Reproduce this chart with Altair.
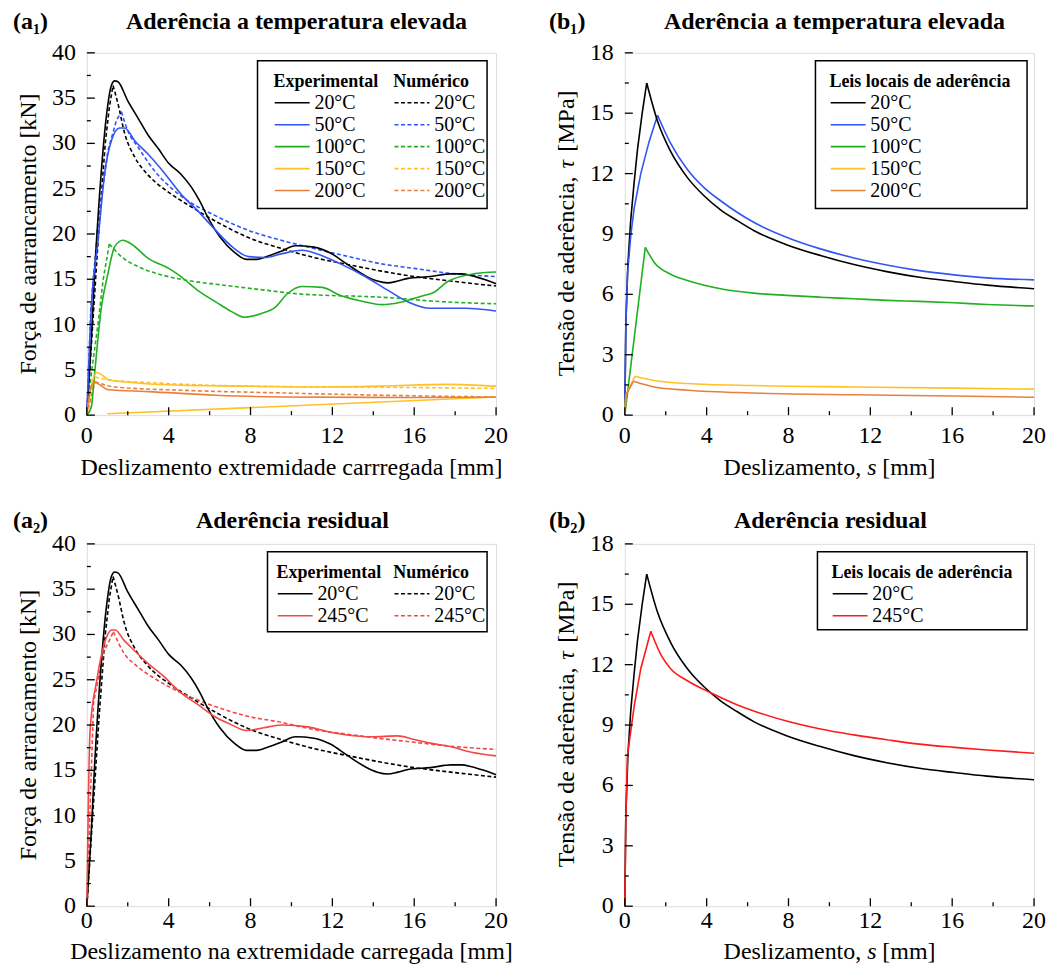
import altair as alt
import pandas as pd

FONT = "Liberation Serif"

# ---------------- data ----------------
# Panel a1 / a2 : pull-out force [kN] vs loaded-end slip [mm]
exp20_s = [0, 0.2, 0.38, 0.7, 0.95, 1.2, 1.36, 1.52, 2.0, 2.5, 3.0, 3.5, 4.0, 4.6, 5.1, 5.5, 5.9, 6.5, 7.2, 7.8,
           8.3, 8.9, 9.5, 10.2, 11.1, 11.9, 12.7, 13.6, 14.2, 14.7, 15.2, 15.7, 16.8, 17.8, 18.3, 18.8, 19.4, 20]
exp20_F = [0, 7.5, 15.6, 26.7, 32.9, 36.4, 36.9, 36.8, 34.7, 32.8, 30.9, 29.4, 27.8, 26.6, 25.2, 23.7, 21.9, 19.7, 18.0, 17.2,
           17.2, 17.6, 18.1, 18.7, 18.55, 17.9, 16.7, 15.4, 14.8, 14.6, 14.8, 15.1, 15.3, 15.6, 15.6, 15.4, 15.0, 14.5]
num20_s = [0, 0.3, 0.6, 0.9, 1.1, 1.28, 1.52, 1.85, 2.34, 3.0, 4.0, 5.1, 6.3, 7.9, 9.5, 11.1, 12.8, 14.4, 16.0, 17.6, 20]
num20_F = [0, 10.5, 21, 30, 34, 36.4, 34.4, 31.1, 28.5, 26.5, 24.6, 23.0, 21.4, 19.6, 18.4, 17.4, 16.6, 15.9, 15.3, 14.85, 14.25]

exp50_s = [0, 0.22, 0.55, 0.87, 1.2, 1.6, 1.85, 2.34, 3.0, 3.8, 4.6, 5.4, 6.3, 7.1, 7.9, 8.7, 9.5, 10.5, 11.5, 12.4,
           13.6, 14.7, 15.7, 16.8, 18.5, 20]
exp50_F = [0, 11.9, 19.3, 26.7, 30.3, 31.7, 31.7, 30.3, 28.8, 26.7, 24.4, 22.6, 20.4, 18.6, 17.5, 17.4, 17.8, 18.2, 17.6, 16.7,
           15.3, 13.8, 12.5, 11.8, 11.8, 11.5]
num50_s = [0, 0.2, 0.55, 1.03, 1.44, 1.69, 2.0, 2.5, 3.3, 4.6, 6.3, 7.9, 9.5, 11.1, 12.8, 14.4, 16.0, 17.6, 20]
num50_F = [0, 12, 21.1, 29.2, 32.5, 33.5, 31.4, 29.6, 27.0, 24.2, 22.0, 20.4, 19.3, 18.4, 17.5, 16.7, 16.2, 15.7, 15.3]

exp100_s = [0, 0.22, 0.38, 0.71, 1.03, 1.36, 1.77, 2.17, 3.0, 4.0, 4.6, 5.4, 6.3, 7.1, 7.7, 8.5, 9.2, 9.8, 10.5, 11.5,
            12.4, 13.6, 14.4, 15.4, 16.3, 17.0, 17.6, 18.9, 20]
exp100_F = [0, 0.9, 4.6, 11.9, 15.6, 18.6, 19.3, 18.9, 17.3, 16.2, 15.3, 13.8, 12.5, 11.4, 10.8, 11.2, 11.9, 13.4, 14.2, 14.1,
            13.2, 12.5, 12.2, 12.5, 13.1, 13.6, 14.7, 15.6, 15.8]
num100_s = [0, 0.22, 0.55, 0.8, 1.1, 1.69, 2.5, 3.8, 5.1, 6.5, 8.7, 10.3, 12.0, 13.6, 15.2, 16.8, 18.5, 20]
num100_F = [0, 4.6, 10.1, 15.0, 18.9, 17.5, 16.4, 15.4, 14.8, 14.4, 13.8, 13.4, 13.2, 13.1, 12.9, 12.6, 12.4, 12.3]

exp150_s = [0, 0.25, 0.49, 0.7, 1.06, 2.2, 4.6, 7.9, 11.1, 14.4, 17.6, 20]
exp150_F = [0, 3.5, 4.7, 4.5, 3.9, 3.6, 3.3, 3.2, 3.1, 3.2, 3.4, 3.2]
exp150b_s = [1.0, 20]
exp150b_F = [0.15, 2.0]
num150_s = [0, 0.4, 1.06, 3.0, 7.9, 16.0, 20]
num150_F = [0, 4.2, 3.9, 3.6, 3.2, 3.05, 2.95]

exp200_s = [0, 0.2, 0.37, 1.06, 3.0, 6.3, 9.5, 16.0, 20]
exp200_F = [0, 3.0, 3.6, 2.8, 2.6, 2.2, 2.0, 1.95, 2.0]
num200_s = [0, 0.4, 1.4, 4.6, 9.5, 14.4, 20]
num200_F = [0, 3.7, 3.1, 2.75, 2.45, 2.2, 2.0]

exp245_s = [0, 0.16, 0.49, 0.82, 1.22, 1.39, 1.8, 2.29, 2.94, 3.75, 4.57, 5.4, 6.2, 7.0, 7.8, 8.65, 9.5, 10.8, 11.9,
            12.7, 13.9, 15.2, 16.0, 16.8, 17.8, 18.8, 20]
exp245_F = [0, 19.5, 25.0, 28.7, 30.5, 30.5, 29.4, 28.3, 26.9, 25.4, 23.6, 22.3, 21.0, 20.1, 19.4, 19.7, 20.0, 19.8, 19.2,
            18.9, 18.7, 18.8, 18.4, 18.0, 17.6, 17.0, 16.6]
num245_s = [0, 0.33, 0.82, 1.3, 1.8, 2.45, 3.27, 4.57, 6.2, 7.8, 9.5, 11.1, 12.7, 14.4, 16.0, 17.6, 20]
num245_F = [0, 22.5, 28.0, 30.3, 28.0, 26.5, 25.2, 23.6, 22.1, 21.0, 20.3, 19.5, 19.0, 18.5, 18.1, 17.7, 17.3]

# Panel b1 / b2 : local bond-slip laws, tau [MPa] vs slip s [mm]
law20_s = [0, 0.05, 0.15, 0.29, 0.45, 0.62, 0.85, 1.07, 1.6, 2.24, 3.06, 3.87, 4.68, 5.5, 6.3, 7.9, 9.56, 11.2,
           12.8, 14.4, 16.1, 17.7, 20]
law20_t = [0, 4.5, 7.5, 9.7, 11.5, 13.2, 15.0, 16.5, 14.6, 13.1, 11.8, 10.9, 10.2, 9.66, 9.17, 8.47, 7.93, 7.48,
           7.13, 6.85, 6.64, 6.46, 6.28]
law50_s = [0, 0.05, 0.13, 0.3, 0.46, 0.78, 1.19, 1.6, 2.24, 3.06, 3.87, 4.68, 6.3, 7.9, 9.56, 11.2, 12.8, 14.4,
           16.1, 17.7, 20]
law50_t = [0, 4.5, 7.0, 9.0, 10.3, 12.0, 13.6, 14.9, 13.5, 12.2, 11.3, 10.65, 9.58, 8.84, 8.26, 7.81, 7.46, 7.18,
           6.97, 6.82, 6.72]
law100_s = [0, 1.0, 1.43, 2.24, 3.06, 4.68, 6.3, 7.9, 9.56, 11.2, 12.8, 14.4, 16.1, 17.7, 20]
law100_t = [0, 8.34, 7.6, 7.0, 6.69, 6.28, 6.06, 5.95, 5.86, 5.78, 5.7, 5.65, 5.58, 5.5, 5.42]
law150_s = [0, 0.05, 0.49, 1.43, 3.06, 6.3, 11.2, 16.1, 20]
law150_t = [0, 1.0, 1.93, 1.72, 1.57, 1.47, 1.40, 1.34, 1.29]
law200_s = [0, 0.05, 0.42, 1.43, 3.06, 6.3, 11.2, 16.1, 20]
law200_t = [0, 1.0, 1.68, 1.4, 1.24, 1.1, 1.01, 0.95, 0.89]
law245_s = [0, 0.05, 0.13, 0.46, 0.78, 1.27, 1.76, 2.24, 3.06, 4.2, 5.5, 6.3, 7.9, 9.56, 11.2, 12.8, 14.4, 16.1, 17.7, 20]
law245_t = [0, 4.5, 7.5, 9.95, 11.8, 13.66, 12.5, 11.8, 11.2, 10.6, 10.0, 9.7, 9.2, 8.8, 8.51, 8.27, 8.05, 7.89, 7.76, 7.6]

temps1 = ["20°C", "50°C", "100°C", "150°C", "200°C"]
colors1 = ["#000000", "#3355f5", "#22b022", "#ffc125", "#e8803c"]
temps2 = ["20°C", "245°C"]
colors2a = ["#000000", "#f24848"]
colors2b = ["#000000", "#ff1a1a"]

x_major = [0, 4, 8, 12, 16, 20]
x_minor = [2, 6, 10, 14, 18]
yF_major = [0, 5, 10, 15, 20, 25, 30, 35, 40]
yF_minor = [2.5, 7.5, 12.5, 17.5, 22.5, 27.5, 32.5, 37.5]
yT_major = [0, 3, 6, 9, 12, 15, 18]
yT_minor = [1.5, 4.5, 7.5, 10.5, 13.5, 16.5]

W, H = 410, 363
DASH = [4, 2.5]
FS = 24  # tick-label / axis-title size


def table(rows, split=False):
    """rows: (temp, seg, x-list, y-list). With split=True each curve is cut at its peak
    into a rising part ('r', drawn straight) and a softening part ('f', drawn smooth)."""
    recs = []
    for temp, seg, xs_, ys_ in rows:
        k = ys_.index(max(ys_)) if split else len(xs_) - 1
        for i, (a, b) in enumerate(zip(xs_, ys_)):
            if i <= k:
                recs.append({"temp": temp, "seg": seg + "r", "part": "r", "s": a, "v": b, "i": i})
            if i >= k and split:
                recs.append({"temp": temp, "seg": seg + "f", "part": "f", "s": a, "v": b, "i": i})
    return pd.DataFrame(recs)


SYM = 306  # sqrt(306)/2 = 8.75 -> custom stroke path 4*8.75 = 35 px long


def legend(title, lx, ly, dash=None):
    kw = dict(title=title, orient="none", legendX=lx, legendY=ly, symbolType="M-1,0L3,0",
              symbolSize=SYM, symbolStrokeWidth=1.6, symbolFillColor="transparent",
              labelFont=FONT, labelFontSize=20, labelColor="#000", labelOffset=21, labelLimit=400,
              titleFont=FONT, titleFontSize=18, titleFontWeight="bold", titleLimit=500,
              titleColor="#000", rowPadding=2, titlePadding=2, padding=0)
    if dash:
        kw["symbolDash"] = dash
    return alt.Legend(**kw)


def txt(t, x, y, **kw):
    base = dict(font=FONT, fontSize=FS, color="#000", baseline="alphabetic", align="center")
    base.update(kw)
    return alt.Chart(pd.DataFrame({"t": [t]})).mark_text(**base).encode(
        text="t:N", x=alt.value(x), y=alt.value(y))


def frame_layers(xs_, ys_, ymaj, ymin, xt, yt, lab, ttl, row, lab_x=-74):
    """Inner ticks, tick labels, axis titles, panel label and panel title."""
    tick_dy, xt_dy, ttl_dy, ttl_dx = (28, 60, -24, 5) if row == 1 else (22, 53, -16, 1)
    out = []
    for vals, ln in ((x_major, 8), (x_minor, 4)):
        out.append(alt.Chart(pd.DataFrame({"s": vals})).mark_rule(color="#000", strokeWidth=1.3).encode(
            x=alt.X("s:Q", scale=xs_, axis=None), y=alt.value(H), y2=alt.value(H - ln)))
    for vals, ln in ((ymaj, 8), (ymin, 4)):
        out.append(alt.Chart(pd.DataFrame({"v": vals})).mark_rule(color="#000", strokeWidth=1.3).encode(
            y=alt.Y("v:Q", scale=ys_, axis=None), x=alt.value(0), x2=alt.value(ln)))
    out.append(alt.Chart(pd.DataFrame({"s": x_major, "t": [str(v) for v in x_major]})).mark_text(
        font=FONT, fontSize=FS, color="#000", baseline="alphabetic", align="center").encode(
        x=alt.X("s:Q", scale=xs_, axis=None), y=alt.value(H + tick_dy), text="t:N"))
    out.append(alt.Chart(pd.DataFrame({"v": ymaj, "t": [str(v) for v in ymaj]})).mark_text(
        font=FONT, fontSize=FS, color="#000", baseline="middle", align="right").encode(
        y=alt.Y("v:Q", scale=ys_, axis=None), x=alt.value(-11), text="t:N"))
    # x-axis title: plain string, or pieces (text, x, italic?) laid out along the axis
    if isinstance(xt, str):
        out.append(txt(xt, W / 2, H + xt_dy))
    else:
        for piece, px, ital in xt:
            out.append(txt(piece, px, H + xt_dy, align="left", fontStyle="italic" if ital else "normal"))
    # y-axis title (rotated, reads bottom to top)
    if isinstance(yt, str):
        out.append(txt(yt, -58, H / 2, angle=270, baseline="middle"))
    else:
        for piece, py, ital in yt:
            out.append(txt(piece, -58, py, angle=270, baseline="middle", align="left",
                           fontStyle="italic" if ital else "normal"))
    out.append(txt(lab, lab_x, ttl_dy, align="left", fontWeight="bold"))
    out.append(txt(ttl, W / 2 + ttl_dx, ttl_dy, fontWeight="bold"))
    return out


def box_layer(x0, x1, y0, y1):
    return alt.Chart(pd.DataFrame({"t": [0]})).mark_rect(
        filled=False, stroke="#000", strokeWidth=1.5
    ).encode(x=alt.value(x0), x2=alt.value(x1), y=alt.value(y0), y2=alt.value(y1))


xs = alt.Scale(domain=[0, 20], nice=False, zero=False)


def split_lines(df, ys, temps, cols, leg, dash=None):
    enc = dict(x=alt.X("s:Q", scale=xs, axis=None), y=alt.Y("v:Q", scale=ys, axis=None),
               color=alt.Color("temp:N", sort=temps, scale=alt.Scale(domain=temps, range=cols), legend=leg),
               detail="seg:N", order="i:Q")
    mk = dict(strokeWidth=1.6)
    if dash:
        mk["strokeDash"] = dash
    base = alt.Chart(df)
    rise = base.transform_filter(alt.datum.part == "r").mark_line(interpolate="linear", **mk).encode(**enc)
    fall = base.transform_filter(alt.datum.part == "f").mark_line(interpolate="monotone", **mk).encode(**enc)
    return alt.layer(rise, fall)


def force_panel(exp_df, num_df, temps, cols, xt, yt, lab, ttl, box, lx_exp, lx_num, row):
    ysF = alt.Scale(domain=[0, 40], nice=False)
    exp = alt.Chart(exp_df).mark_line(strokeWidth=1.6, interpolate="monotone").encode(
        x=alt.X("s:Q", scale=xs, axis=None),
        y=alt.Y("v:Q", scale=ysF, axis=None),
        color=alt.Color("temp:N", sort=temps, scale=alt.Scale(domain=temps, range=cols),
                        legend=legend("Experimental", lx_exp, 20)),
        detail="seg:N", order="i:Q")
    num = split_lines(num_df, ysF, temps, cols, legend("Numérico", lx_num, 20, DASH), DASH)
    layers = [num, exp, box_layer(*box)] + frame_layers(xs, ysF, yF_major, yF_minor, xt, yt, lab, ttl, row)
    return alt.layer(*layers).resolve_scale(color="independent").properties(width=W, height=H)


# axis titles of the bond-law panels, with the italic symbols s and tau
law_xt = [("Deslizamento,", 99, False), ("s", 243, True), ("[mm]", 258, False)]
law_yt = [("Tensão de aderência,", 324, False), ("τ", 116, True), ("[MPa]", 99, False)]


def law_panel(df, temps, cols, lab, ttl, box, row):
    ys = alt.Scale(domain=[0, 18], nice=False)
    ln = split_lines(df, ys, temps, cols, legend("Leis locais de aderência", box[0] + 14, 20))
    layers = [ln, box_layer(*box)] + frame_layers(xs, ys, yT_major, yT_minor,
                                                  law_xt, law_yt, lab, ttl, row, lab_x=-76)
    return alt.layer(*layers).properties(width=W, height=H)


a1_exp = table([("20°C", "a", exp20_s, exp20_F), ("50°C", "a", exp50_s, exp50_F),
                ("100°C", "a", exp100_s, exp100_F), ("150°C", "a", exp150_s, exp150_F),
                ("150°C", "b", exp150b_s, exp150b_F), ("200°C", "a", exp200_s, exp200_F)])
a1_num = table([("20°C", "a", num20_s, num20_F), ("50°C", "a", num50_s, num50_F),
                ("100°C", "a", num100_s, num100_F), ("150°C", "a", num150_s, num150_F),
                ("200°C", "a", num200_s, num200_F)], split=True)
a1 = force_panel(a1_exp, a1_num, temps1, colors1,
                 "Deslizamento extremidade carrregada [mm]", "Força de aarrancamento [kN]",
                 "(a₁)", "Aderência a temperatura elevada", (171, 401, 8, 156), 187, 307, 1)

b1_df = table([("20°C", "a", law20_s, law20_t), ("50°C", "a", law50_s, law50_t),
               ("100°C", "a", law100_s, law100_t), ("150°C", "a", law150_s, law150_t),
               ("200°C", "a", law200_s, law200_t)], split=True)
b1 = law_panel(b1_df, temps1, colors1, "(b₁)", "Aderência a temperatura elevada", (191, 403, 8, 156), 1)

a2_exp = table([("20°C", "a", exp20_s, exp20_F), ("245°C", "a", exp245_s, exp245_F)])
a2_num = table([("20°C", "a", num20_s, num20_F), ("245°C", "a", num245_s, num245_F)], split=True)
a2 = force_panel(a2_exp, a2_num, temps2, colors2a,
                 "Deslizamento na extremidade carregada [mm]", "Força de arrancamento [kN]",
                 "(a₂)", "Aderência residual", (181, 401, 8, 88), 190, 307, 2)

b2_df = table([("20°C", "a", law20_s, law20_t), ("245°C", "a", law245_s, law245_t)], split=True)
b2 = law_panel(b2_df, temps2, colors2b, "(b₂)", "Aderência residual", (193, 403, 8, 86), 2)

chart = alt.concat(a1, b1, a2, b2, columns=2, spacing=129, bounds="flush").resolve_scale(
    color="independent", x="independent", y="independent"
).properties(
    padding={"left": 12, "top": 8, "right": 5, "bottom": 2}
).configure_view(stroke="#000", strokeWidth=1.5).configure(
    background="white", font=FONT
).configure_legend(labelFont=FONT, titleFont=FONT)

chart.save("out.html", embed_options={"renderer": "svg", "actions": False})
